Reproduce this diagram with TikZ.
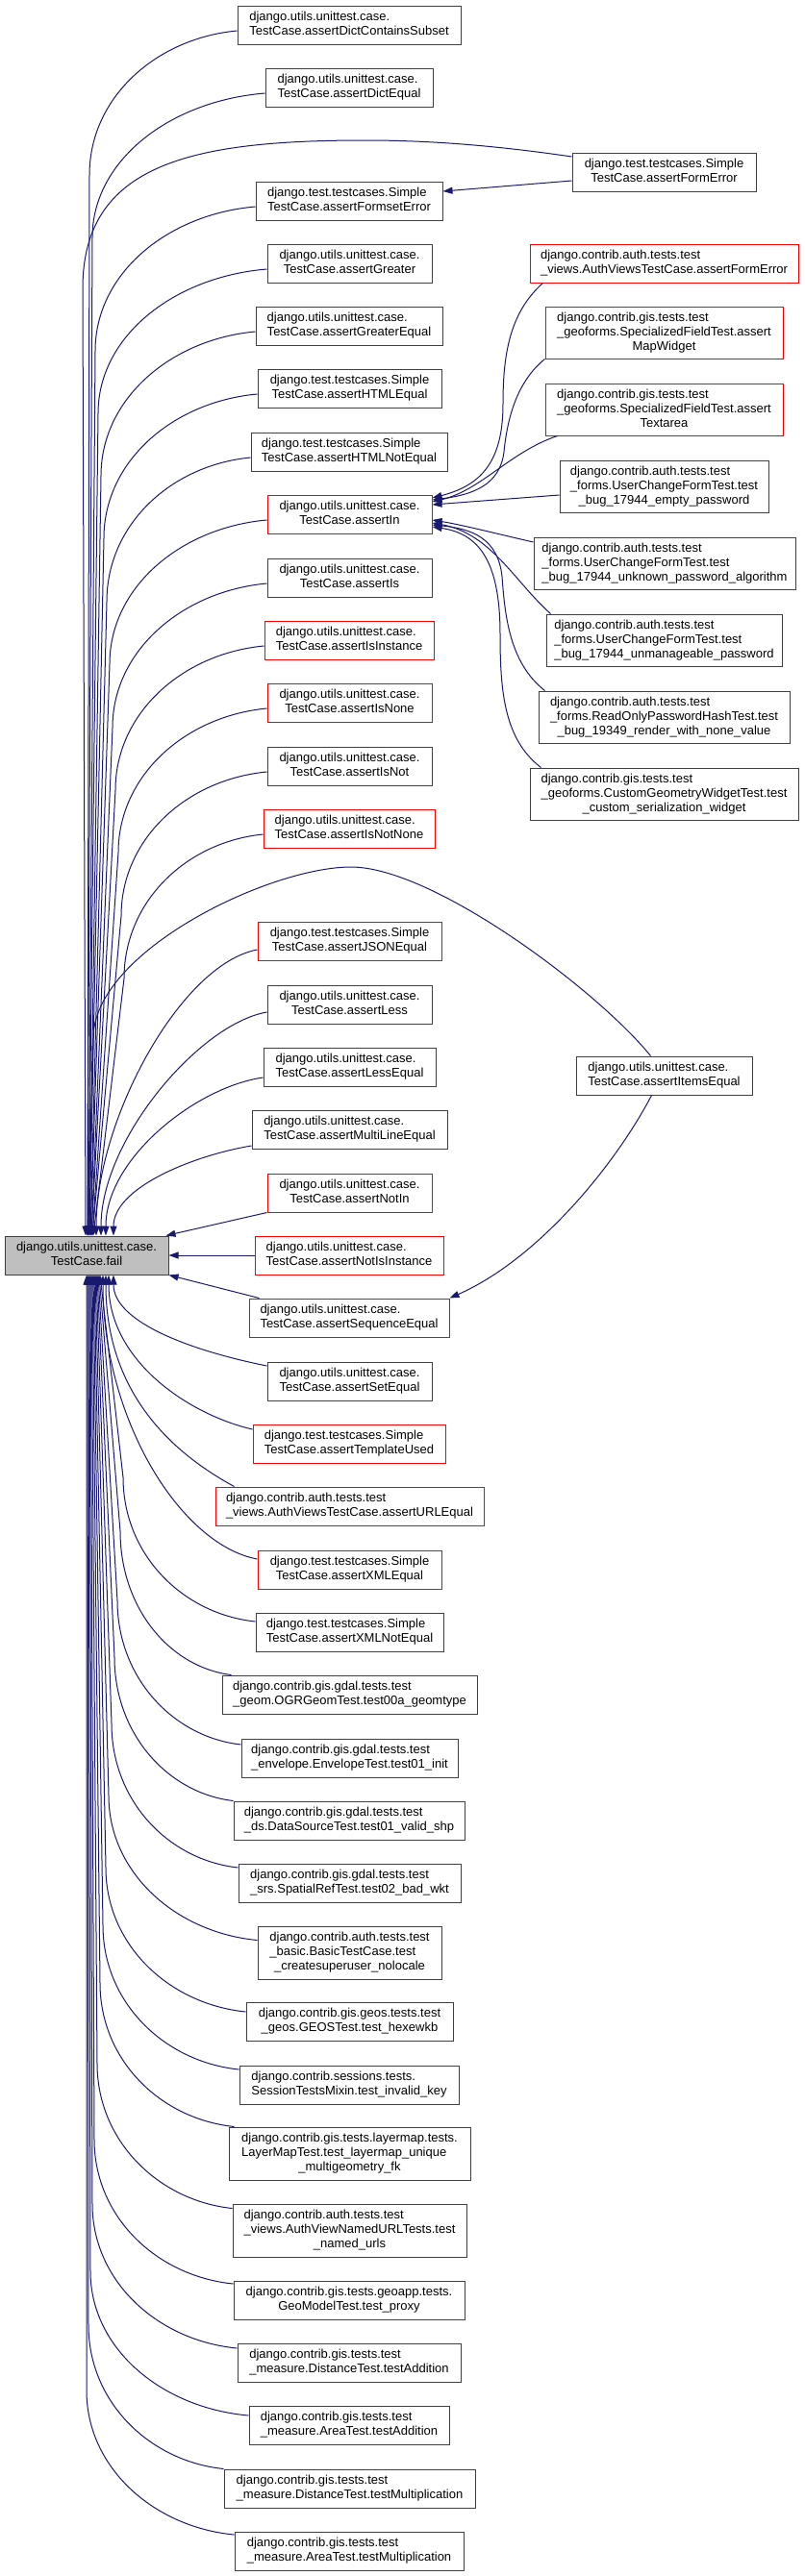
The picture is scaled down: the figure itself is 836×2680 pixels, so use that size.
\documentclass[tikz,border=0pt]{standalone}
\usepackage{fontspec}
\setmainfont{Liberation Sans}
\usetikzlibrary{arrows.meta}
\definecolor{edgeblue}{HTML}{191970}
\definecolor{grey25}{HTML}{404040}
\definecolor{failgrey}{HTML}{BFBFBF}
\definecolor{nodered}{HTML}{FF0000}
\newcommand\Ltwo[2]{\begin{tabular}{@{}l@{}}#1\\\multicolumn{1}{@{}c@{}}{#2}\end{tabular}}
\newcommand\Lthree[3]{\begin{tabular}{@{}l@{}}#1\\#2\\\multicolumn{1}{@{}c@{}}{#3}\end{tabular}}
\begin{document}
\begin{tikzpicture}[x=1pt,y=-1pt,
  box/.style={draw=grey25,line width=1pt,fill=white,inner sep=0pt,text=black,font=\fontsize{13}{15}\selectfont},
  hot/.style={draw=nodered},
  sz/.style 2 args={minimum width=#1pt,minimum height=#2pt},
  conn/.style={draw=edgeblue,line width=1pt,-{Triangle[length=10pt,width=7pt]}}]
\useasboundingbox[fill=white] (0,0) rectangle (836,2680);

% main node
\node[box,fill=failgrey,sz={170}{40}] (fail) at (90,1306) {\Ltwo{django.utils.unittest.case.}{TestCase.fail}};

% middle column
\node[box,sz={232}{40}] (dcs) at (363,26) {\Ltwo{django.utils.unittest.case.}{TestCase.assertDictContainsSubset}};
\node[box,sz={174}{40}] (de) at (363,91) {\Ltwo{django.utils.unittest.case.}{TestCase.assertDictEqual}};
\node[box,sz={194}{40}] (fs) at (363,209) {\Ltwo{django.test.testcases.Simple}{TestCase.assertFormsetError}};
\node[box,sz={171}{40}] (gr) at (363.5,274) {\Ltwo{django.utils.unittest.case.}{TestCase.assertGreater}};
\node[box,sz={194}{40}] (ge) at (363,339) {\Ltwo{django.utils.unittest.case.}{TestCase.assertGreaterEqual}};
\node[box,sz={191}{40}] (he) at (363.5,404) {\Ltwo{django.test.testcases.Simple}{TestCase.assertHTMLEqual}};
\node[box,sz={204}{40}] (hne) at (363,470) {\Ltwo{django.test.testcases.Simple}{TestCase.assertHTMLNotEqual}};
\node[box,hot,sz={171}{40}] (in) at (363.5,535) {\Ltwo{django.utils.unittest.case.}{TestCase.assertIn}};
\node[box,sz={171}{40}] (is) at (363.5,601) {\Ltwo{django.utils.unittest.case.}{TestCase.assertIs}};
\node[box,hot,sz={176}{40}] (isi) at (363,666) {\Ltwo{django.utils.unittest.case.}{TestCase.assertIsInstance}};
\node[box,hot,sz={171}{40}] (isn) at (363.5,731) {\Ltwo{django.utils.unittest.case.}{TestCase.assertIsNone}};
\node[box,sz={171}{40}] (isnot) at (363.5,797) {\Ltwo{django.utils.unittest.case.}{TestCase.assertIsNot}};
\node[box,hot,sz={178}{40}] (isnn) at (363,862) {\Ltwo{django.utils.unittest.case.}{TestCase.assertIsNotNone}};
\node[box,hot,sz={191}{40}] (json) at (363.5,979) {\Ltwo{django.test.testcases.Simple}{TestCase.assertJSONEqual}};
\node[box,sz={171}{40}] (less) at (363.5,1045) {\Ltwo{django.utils.unittest.case.}{TestCase.assertLess}};
\node[box,sz={179}{40}] (le) at (363.5,1110) {\Ltwo{django.utils.unittest.case.}{TestCase.assertLessEqual}};
\node[box,sz={203}{40}] (ml) at (363.5,1175) {\Ltwo{django.utils.unittest.case.}{TestCase.assertMultiLineEqual}};
\node[box,hot,sz={171}{40}] (ni) at (363.5,1241) {\Ltwo{django.utils.unittest.case.}{TestCase.assertNotIn}};
\node[box,hot,sz={196}{40}] (nii) at (363,1306) {\Ltwo{django.utils.unittest.case.}{TestCase.assertNotIsInstance}};
\node[box,hot,sz={208}{40}] (seq) at (363,1371) {\Ltwo{django.utils.unittest.case.}{TestCase.assertSequenceEqual}};
\node[box,sz={171}{40}] (se) at (363.5,1437) {\Ltwo{django.utils.unittest.case.}{TestCase.assertSetEqual}};
\node[box,hot,sz={200}{40}] (tu) at (363,1502) {\Ltwo{django.test.testcases.Simple}{TestCase.assertTemplateUsed}};
\node[box,hot,sz={279}{40}] (url) at (363.5,1567) {\Ltwo{django.contrib.auth.tests.test}{\_views.AuthViewsTestCase.assertURLEqual}};
\node[box,hot,sz={191}{40}] (xml) at (363.5,1633) {\Ltwo{django.test.testcases.Simple}{TestCase.assertXMLEqual}};
\node[box,sz={195}{40}] (xmln) at (363.5,1698) {\Ltwo{django.test.testcases.Simple}{TestCase.assertXMLNotEqual}};
\node[box,sz={265}{40}] (ogr) at (363.5,1763) {\Ltwo{django.contrib.gis.gdal.tests.test}{\_geom.OGRGeomTest.test00a\_geomtype}};
\node[box,sz={225}{40}] (env) at (363.5,1829) {\Ltwo{django.contrib.gis.gdal.tests.test}{\_envelope.EnvelopeTest.test01\_init}};
\node[box,sz={240}{40}] (ds) at (363,1894) {\Ltwo{django.contrib.gis.gdal.tests.test}{\_ds.DataSourceTest.test01\_valid\_shp}};
\node[box,sz={231}{40}] (sr) at (363.5,1959) {\Ltwo{django.contrib.gis.gdal.tests.test}{\_srs.SpatialRefTest.test02\_bad\_wkt}};
\node[box,sz={191}{55}] (basic) at (363.5,2031.5) {\Lthree{django.contrib.auth.tests.test}{\_basic.BasicTestCase.test}{\_createsuperuser\_nolocale}};
\node[box,sz={215}{40}] (geos) at (363.5,2103) {\Ltwo{django.contrib.gis.geos.tests.test}{\_geos.GEOSTest.test\_hexewkb}};
\node[box,sz={228}{40}] (sess) at (363,2169) {\Ltwo{django.contrib.sessions.tests.}{SessionTestsMixin.test\_invalid\_key}};
\node[box,sz={251}{55}] (lm) at (363.5,2240.5) {\Lthree{django.contrib.gis.tests.layermap.tests.}{LayerMapTest.test\_layermap\_unique}{\_multigeometry\_fk}};
\node[box,sz={243}{55}] (nu) at (363.5,2320.5) {\Lthree{django.contrib.auth.tests.test}{\_views.AuthViewNamedURLTests.test}{\_named\_urls}};
\node[box,sz={240}{40}] (gm) at (363,2393) {\Ltwo{django.contrib.gis.tests.geoapp.tests.}{GeoModelTest.test\_proxy}};
\node[box,sz={232}{40}] (da) at (363,2458) {\Ltwo{django.contrib.gis.tests.test}{\_measure.DistanceTest.testAddition}};
\node[box,sz={208}{40}] (aa) at (363,2523) {\Ltwo{django.contrib.gis.tests.test}{\_measure.AreaTest.testAddition}};
\node[box,sz={261}{40}] (dm) at (363.5,2589) {\Ltwo{django.contrib.gis.tests.test}{\_measure.DistanceTest.testMultiplication}};
\node[box,sz={238}{40}] (am) at (363,2654) {\Ltwo{django.contrib.gis.tests.test}{\_measure.AreaTest.testMultiplication}};

% right column
\node[box,sz={191}{40}] (fe) at (690.5,179) {\Ltwo{django.test.testcases.Simple}{TestCase.assertFormError}};
\node[box,hot,sz={279}{40}] (avfe) at (690.5,274) {\Ltwo{django.contrib.auth.tests.test}{\_views.AuthViewsTestCase.assertFormError}};
\node[box,hot,sz={247}{54}] (mw) at (690.5,346) {\Lthree{django.contrib.gis.tests.test}{\_geoforms.SpecializedFieldTest.assert}{MapWidget}};
\node[box,hot,sz={247}{54}] (ta) at (690.5,426) {\Lthree{django.contrib.gis.tests.test}{\_geoforms.SpecializedFieldTest.assert}{Textarea}};
\node[box,sz={217}{54}] (ep) at (690.5,506) {\Lthree{django.contrib.auth.tests.test}{\_forms.UserChangeFormTest.test}{\_bug\_17944\_empty\_password}};
\node[box,sz={272}{54}] (uk) at (691,586) {\Lthree{django.contrib.auth.tests.test}{\_forms.UserChangeFormTest.test}{\_bug\_17944\_unknown\_password\_algorithm}};
\node[box,sz={245}{54}] (um) at (690.5,666) {\Lthree{django.contrib.auth.tests.test}{\_forms.UserChangeFormTest.test}{\_bug\_17944\_unmanageable\_password}};
\node[box,sz={261}{54}] (ro) at (690.5,746) {\Lthree{django.contrib.auth.tests.test}{\_forms.ReadOnlyPasswordHashTest.test}{\_bug\_19349\_render\_with\_none\_value}};
\node[box,sz={279}{54}] (cg) at (690.5,826) {\Lthree{django.contrib.gis.tests.test}{\_geoforms.CustomGeometryWidgetTest.test}{\_custom\_serialization\_widget}};
\node[box,sz={183}{40}] (items) at (690.5,1119) {\Ltwo{django.utils.unittest.case.}{TestCase.assertItemsEqual}};

% ---- edges into fail from above ----
\draw[conn] ([yshift=16pt]fe.west) .. controls +(-75,-11) and +(70,0) .. (380,146) .. controls (200,146) and (86,170) .. (86,300) -- ([xshift=-1pt]fail.north);
\draw[conn] ([yshift=-6pt]dcs.west) .. controls +(-85,8) and +(0,-80) .. (93,182) -- ([xshift=1pt]fail.north);
\draw[conn] ([yshift=-6pt]de.west) .. controls +(-99,8) and +(0,-80) .. (96,247) -- ([xshift=1pt]fail.north);
\draw[conn] ([yshift=-6pt]fs.west) .. controls +(-92,8) and +(0,-80) .. (99,365) -- ([xshift=2pt]fail.north);
\draw[conn] ([yshift=-6pt]gr.west) .. controls +(-97,8) and +(0,-80) .. (102,430) -- ([xshift=2pt]fail.north);
\draw[conn] ([yshift=-6pt]ge.west) .. controls +(-88,8) and +(0,-80) .. (105,495) -- ([xshift=3pt]fail.north);
\draw[conn] ([yshift=-6pt]he.west) .. controls +(-88,8) and +(0,-80) .. (108,560) -- ([xshift=3pt]fail.north);
\draw[conn] ([yshift=-6pt]hne.west) .. controls +(-83,8) and +(0,-80) .. (111,626) -- ([xshift=4pt]fail.north);
\draw[conn] ([yshift=-6pt]in.west) .. controls +(-90,8) and +(0,-80) .. (114,691) -- ([xshift=4pt]fail.north);
\draw[conn] ([yshift=-6pt]is.west) .. controls +(-88,8) and +(0,-80) .. (117,757) -- ([xshift=5pt]fail.north);
\draw[conn] ([yshift=-6pt]isi.west) .. controls +(-85,8) and +(0,-80) .. (120,822) -- ([xshift=5pt]fail.north);
\draw[conn] ([yshift=-6pt]isn.west) .. controls +(-85,8) and +(0,-80) .. (123,887) -- ([xshift=6pt]fail.north);
\draw[conn] ([yshift=-6pt]isnot.west) .. controls +(-84,8) and +(0,-80) .. (126,953) -- ([xshift=6pt]fail.north);
\draw[conn] ([yshift=-6pt]isnn.west) .. controls +(-80,8) and +(0,-80) .. (129,1018) -- ([xshift=7pt]fail.north);
\draw[conn] ([xshift=-14pt]items.north) .. controls +(-56,-69) and +(85,0) .. (365,902) .. controls (280,902) and (97,990) .. (97,1080) -- ([xshift=1pt]fail.north);
\draw[conn] ([yshift=-9pt]json.west) .. controls +(-80,15) and +(0,-120) .. ([xshift=10pt]fail.north);
\draw[conn] ([yshift=-8pt]less.west) .. controls +(-70,12) and +(0,-100) .. ([xshift=15pt]fail.north);
\draw[conn] ([yshift=-11pt]le.west) .. controls +(-70,10) and +(0,-80) .. ([xshift=20pt]fail.north);
\draw[conn] ([yshift=-17pt]ml.west) .. controls +(-60,10) and +(0,-50) .. ([xshift=28pt]fail.north);
\draw[conn] (ni.south west) -- ([xshift=-3pt]fail.north east);
\draw[conn] (nii.west) -- (fail.east);

% ---- edges into fail from below ----
\draw[conn] ([xshift=11pt]seq.north west) -- (fail.south east);
\draw[conn] ([yshift=16pt]se.west) .. controls +(-75,-15) and +(0,50) .. ([xshift=28pt]fail.south);
\draw[conn] ([yshift=15pt]tu.west) .. controls +(-65,-15) and +(0,90) .. ([xshift=23pt]fail.south);
\draw[conn] ([xshift=20pt]url.north west) .. controls +(-55,-30) and +(0,130) .. ([xshift=20pt]fail.south);
\draw[conn] ([yshift=11pt]xml.west) .. controls +(-80,-15) and +(0,150) .. ([xshift=17pt]fail.south);
\draw[conn] ([yshift=11pt]xmln.west) .. controls +(-76,-8) and +(0,80) .. (128,1537) -- ([xshift=14pt]fail.south);
\draw[conn] ([xshift=10pt]ogr.north west) .. controls +(-64,-8) and +(0,80) .. (125,1593) -- ([xshift=13pt]fail.south);
\draw[conn] ([yshift=14pt]env.west) .. controls +(-71,-8) and +(0,80) .. (122,1665) -- ([xshift=12pt]fail.south);
\draw[conn] (ds.north west) .. controls +(-68,-8) and +(0,80) .. (119,1724) -- ([xshift=11pt]fail.south);
\draw[conn] ([yshift=16pt]sr.west) .. controls +(-73,-8) and +(0,80) .. (116,1793) -- ([xshift=10pt]fail.south);
\draw[conn] ([yshift=13pt]basic.west) .. controls +(-85,-8) and +(0,80) .. (113,1868) -- ([xshift=9pt]fail.south);
\draw[conn] ([yshift=10pt]geos.west) .. controls +(-80,-8) and +(0,80) .. (110,1943) -- ([xshift=8pt]fail.south);
\draw[conn] ([yshift=16pt]sess.west) .. controls +(-78,-8) and +(0,80) .. (107,2003) -- ([xshift=7pt]fail.south);
\draw[conn] ([xshift=6pt]lm.north west) .. controls +(-77,-8) and +(0,80) .. (104,2063) -- ([xshift=6pt]fail.south);
\draw[conn] ([yshift=23pt]nu.west) .. controls +(-77,-8) and +(0,80) .. (101,2147) -- ([xshift=5pt]fail.south);
\draw[conn] ([yshift=17pt]gm.west) .. controls +(-80,-8) and +(0,80) .. (98,2226) -- ([xshift=4pt]fail.south);
\draw[conn] ([yshift=15pt]da.west) .. controls +(-83,-8) and +(0,80) .. (96,2293) -- ([xshift=3pt]fail.south);
\draw[conn] ([yshift=10pt]aa.west) .. controls +(-91,-8) and +(0,80) .. (94,2363) -- ([xshift=2pt]fail.south);
\draw[conn] (dm.north west) .. controls +(-77,-8) and +(0,80) .. (92,2419) -- ([xshift=1pt]fail.south);
\draw[conn] ([yshift=17pt]am.west) .. controls +(-84,-8) and +(0,80) .. (90,2487) -- (fail.south);

% ---- other edges ----
\draw[conn] ([yshift=-9pt]fe.west) -- ([yshift=10pt]fs.east);
\draw[conn] ([xshift=-13pt]items.south) .. controls +(-37,71) and +(93,-41) .. (seq.north east);

\draw[conn] ([xshift=14pt]avfe.south west) .. controls +(-35,31) and +(0,-50) .. (523,420) .. controls +(0,60) and +(51,-13) .. ([yshift=17pt]in.east);
\draw[conn] (mw.south west) .. controls +(-27,22) and +(4,-40) .. (524,470) .. controls +(-4,35) and +(41,-5) .. ([yshift=15pt]in.east);
\draw[conn] ([xshift=13pt]ta.south west) .. controls +(-50,17) and +(51,-12) .. ([yshift=13pt]in.east);
\draw[conn] ([yshift=-9pt]ep.west) -- ([yshift=10pt]in.east);
\draw[conn] ([yshift=22pt]uk.west) .. controls +(-35,-8) and +(31,5) .. ([yshift=-6pt]in.east);
\draw[conn] ([xshift=5pt]um.north west) .. controls +(-38,-34) and +(61,11) .. ([yshift=-9pt]in.east);
\draw[conn] ([xshift=7pt]ro.north west) .. controls +(-37,-29) and +(3,40) .. (522,600) .. controls +(-4,-40) and +(41,4) .. ([yshift=-11pt]in.east);
\draw[conn] ([xshift=12pt]cg.north west) .. controls +(-38,-29) and +(0,60) .. (520,660) .. controls +(0,-80) and +(46,7) .. ([yshift=-13pt]in.east);
\end{tikzpicture}
\end{document}
